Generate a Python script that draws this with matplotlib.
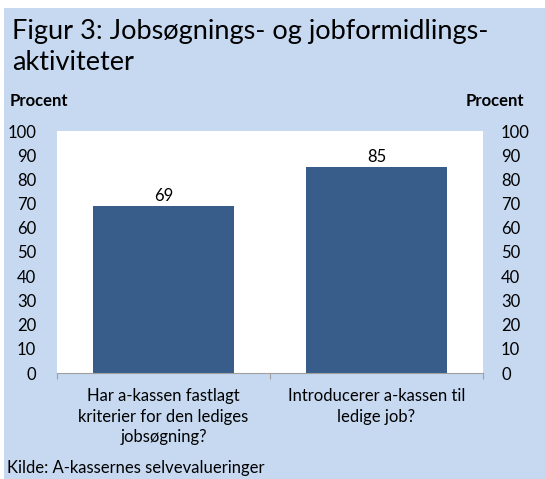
import matplotlib.pyplot as plt
from matplotlib.patches import Rectangle

categories = ["Har a-kassen fastlagt\nkriterier for den lediges\njobsøgning?",
              "Introducerer a-kassen til\nledige job?"]
values = [69, 85]
yticks = list(range(0, 101, 10))

W, H = 545, 479
bg = "#C6D9F1"
bar_color = "#385D8A"
fs = 12
plt.rcParams['font.family'] = ['Lato', 'DejaVu Sans']

fig = plt.figure(figsize=(W / 100, H / 100), dpi=100, facecolor="white")
fig.patches.append(Rectangle((4 / W, 0), 1, 1 - 8 / H, transform=fig.transFigure,
                             facecolor=bg, edgecolor="none", zorder=-5))

ax = fig.add_axes([57 / W, 1 - 373 / H, (483 - 57) / W, (373 - 131) / H])
ax.set_facecolor("white")
x = range(len(values))
bars = ax.bar(x, values, width=0.665, color=bar_color, zorder=2)
for b, v in zip(bars, values):
    ax.text(b.get_x() + b.get_width() / 2, v + 1.0, str(v), ha="center", va="bottom",
            fontsize=fs, color="black")

ax.set_xlim(-0.5, len(values) - 0.5)
ax.set_ylim(0, 100)
ax.set_yticks(yticks)
ax.tick_params(axis="y", length=0, labelsize=fs, pad=15)
ax.set_xticks([-0.5, 0.5, 1.5])
ax.set_xticklabels([])
ax.tick_params(axis="x", length=4, color="#A0A0A0", direction="out")
ax.set_xticks(list(x), minor=True)
ax.set_xticklabels(categories, minor=True, fontsize=fs, linespacing=1.35)
ax.tick_params(axis="x", which="minor", length=0, pad=11)
for s in ["left", "right", "top"]:
    ax.spines[s].set_visible(False)
ax.spines["bottom"].set_color("#A0A0A0")

ax2 = ax.twinx()
ax2.set_ylim(0, 100)
ax2.set_yticks(yticks)
ax2.tick_params(axis="y", length=0, labelsize=fs, pad=13)
for s in ax2.spines.values():
    s.set_visible(False)

fig.text(12 / W, 1 - 32 / H, "Figur 3: Jobsøgnings- og jobformidlings-", fontsize=19.5,
         va="center", ha="left")
fig.text(12 / W, 1 - 62 / H, "aktiviteter", fontsize=19.5, va="center", ha="left")
fig.text(10 / W, 1 - 101 / H, "Procent", fontsize=12, fontweight="bold", va="center")
fig.text(524 / W, 1 - 101 / H, "Procent", fontsize=12, fontweight="bold", va="center",
         ha="right")
fig.text(7 / W, 1 - 468 / H, "Kilde: A-kassernes selvevalueringer", fontsize=fs,
         va="center", ha="left")

fig.savefig("out.png", dpi=100, facecolor="white")
